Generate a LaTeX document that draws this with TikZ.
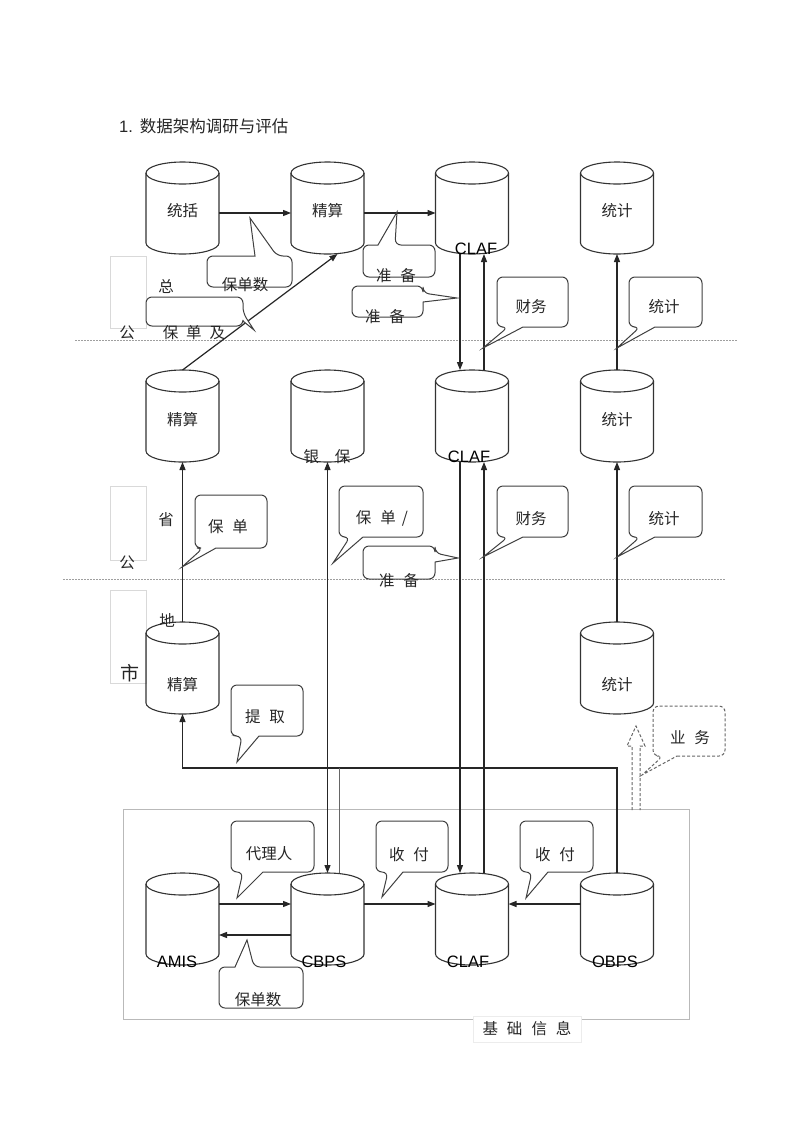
\documentclass[tikz,border=0pt]{standalone}
\usepackage{fontspec}
\setmainfont{Noto Sans CJK SC}
\newfontfamily\lat{Liberation Sans}
\usetikzlibrary{arrows.meta}
\tikzset{
 cylbox/.style={minimum width=73pt, minimum height=92pt, inner sep=0pt, outer sep=0pt},
 cylline/.style={draw=black!80, line width=1.1pt},
 arr/.style={draw=black!85, line width=1.2pt, -{Triangle[length=8pt,width=6pt]}},
 barr/.style={draw=black!85, line width=1.2pt, {Triangle[length=8pt,width=6pt]}-{Triangle[length=8pt,width=6pt]}},
 thinln/.style={draw=black!60, line width=0.7pt},
 co/.style={draw=black!75, line width=1pt, fill=white, rounded corners=6pt},
 cod/.style={draw=black!60, line width=1pt, fill=white, rounded corners=6pt, dash pattern=on 3pt off 2pt},
 cn/.style={font=\fontsize{15.5}{18}\selectfont, inner sep=0pt, text=black!85},
 ln/.style={font=\lat\fontsize{16.5}{18}\selectfont, inner sep=0pt},
 sepl/.style={draw=gray!75, line width=0.6pt, dash pattern=on 2pt off 1pt},
 lbox/.style={draw=gray!30, line width=0.4pt},
 basebox/.style={draw=gray!55, line width=0.7pt, minimum width=566pt, minimum height=210pt, inner sep=0pt},
}
\newcommand\gp{\hspace{9pt}}
\newcommand\cyl[3]{%
 \node[cylbox] (#1) at (#2,#3) {};
 \draw[cylline] (#2-36.5,#3-35) -- (#2-36.5,#3+35) arc[start angle=180,end angle=0,x radius=36.5,y radius=11] -- (#2+36.5,#3-35);
 \draw[cylline] (#2,#3-35) ellipse[x radius=36.5, y radius=11];
}
% bottom-edge pointer: x1 y1 x2 y2 bx1 bx2 tx ty
\newcommand\calB[9][co]{%
 \draw[#1] (#7,#5) -- (#4,#5) -- (#4,#3) -- (#2,#3) -- (#2,#5) -- (#6,#5) [sharp corners] -- (#8,#9) -- cycle;}
% top-edge pointer
\newcommand\calT[9][co]{%
 \draw[#1] (#6,#3) -- (#2,#3) -- (#2,#5) -- (#4,#5) -- (#4,#3) -- (#7,#3) [sharp corners] -- (#8,#9) -- cycle;}
% right-edge pointer: x1 y1 x2 y2 by1 by2 tx ty
\newcommand\calR[9][co]{%
 \draw[#1] (#4,#7) -- (#4,#5) -- (#2,#5) -- (#2,#3) -- (#4,#3) -- (#4,#6) [sharp corners] -- (#8,#9) -- cycle;}
\begin{document}
\begin{tikzpicture}[x=1pt,y=-1pt]
\fill[white] (0,0) rectangle (800,1133);
\useasboundingbox (0,0) rectangle (800,1133);

% separators
\draw[sepl] (75,340) -- (737,340);
\draw[sepl] (63,579) -- (725,579);

% left label boxes
\draw[lbox] (110,256) rectangle (146,328);
\draw[lbox] (110,486) rectangle (146,560);
\draw[lbox] (110,590) rectangle (146,683);

% base box
\node[basebox] (base) at (406,914) {};
\node[cn, fill=white, draw=gray!15, line width=0.4pt, minimum width=108pt, minimum height=26pt] (k17) at (527,1029) {基\gp{}础\gp{}信\gp{}息};

% cylinders
\cyl{r1a}{182.5}{208}
\cyl{r1b}{327.5}{208}
\cyl{r1c}{472}{208}
\cyl{r1d}{617}{208}
\cyl{r2a}{182.5}{416}
\cyl{r2b}{327.5}{416}
\cyl{r2c}{472}{416}
\cyl{r2d}{617}{416}
\cyl{r3a}{182.5}{668}
\cyl{r3d}{617}{668}
\cyl{r4a}{182.5}{919}
\cyl{r4b}{327.5}{919}
\cyl{r4c}{472}{919}
\cyl{r4d}{617}{919}

% junction coordinates
\coordinate (jR) at (617,768);
\coordinate (jL) at (182.5,768);
\coordinate (jC) at (339.5,768);

% connectors
\draw[arr] ([yshift=-5pt]r1a.east) -- ([yshift=-5pt]r1b.west);
\draw[arr] ([yshift=-5pt]r1b.east) -- ([yshift=-5pt]r1c.west);
\draw[arr] ([xshift=-12pt]r1c.south) -- ([xshift=-12pt]r2c.north);
\draw[arr] ([xshift=12pt]r2c.north) -- ([xshift=12pt]r1c.south);
\draw[arr] ([xshift=-12pt]r2c.south) -- ([xshift=-12pt]r4c.north);
\draw[arr] ([xshift=12pt]r4c.north) -- ([xshift=12pt]r2c.south);
\draw[arr] (r2d.north) -- (r1d.south);
\draw[arr] (r3d.north) -- (r2d.south);
\draw[arr] (r2a.north) -- ([xshift=10pt]r1b.south);
\draw[arr] (r3a.north) -- (r2a.south);
\draw[barr] (r2b.south) -- (r4b.north);
\draw[arr] (r4d.north) -- (jR) -- (jL) -- (r3a.south);
\draw[thinln] ([xshift=12pt]r4b.north) -- (jC);
\draw[arr] ([yshift=15pt]r4a.east) -- ([yshift=15pt]r4b.west);
\draw[arr] ([yshift=-16pt]r4b.west) -- ([yshift=-16pt]r4a.east);
\draw[arr] ([yshift=15pt]r4b.east) -- ([yshift=15pt]r4c.west);
\draw[arr] ([yshift=15pt]r4d.west) -- ([yshift=15pt]r4c.east);

% dashed hollow arrow
\draw[draw=black!60, line width=1pt, dash pattern=on 3pt off 2pt, line join=miter]
 (632,810) -- (632,746) -- (627,746) -- (636,726) -- (645,746) -- (640,746) -- (640,810);

% callouts
\calT{207}{256}{292}{287}{255}{277}{250}{218}
\calT{363}{245}{435}{277}{378}{395}{397}{212}
\calR{352}{286}{423}{317}{293}{302}{457}{298}
\calR{146}{297}{243}{326}{313}{321}{254}{330}
\calB{497}{277}{568}{327}{508}{523}{483}{348}
\calB{629}{277}{702}{327}{640}{655}{617}{348}
\calB{195}{495}{267}{548}{203}{216}{182}{567}
\calB{339}{486}{423}{537}{350}{363}{333}{563}
\calR{363}{546}{435}{579}{553}{562}{458}{558}
\calB{497}{486}{568}{537}{508}{523}{483}{557}
\calB{629}{486}{702}{537}{640}{655}{617}{557}
\calB{231}{685}{303}{736}{242}{259}{237}{762}
\calB[cod]{653}{706}{725}{756}{663}{677}{642}{775}
\calB{231}{821}{314}{872}{243}{263}{237}{898}
\calB{376}{821}{448}{872}{388}{403}{382}{897}
\calB{520}{821}{593}{872}{532}{548}{526}{898}
\calT{219}{967}{303}{1008}{235}{254}{247}{940}

% title
\node[cn, anchor=west, font=\fontsize{16.5}{18}\selectfont] (title) at (119,126) {{\lat 1.}\hspace{7pt}数据架构调研与评估};

% cylinder texts
\node[cn] (c1) at (182.5,211) {统括};
\node[cn] (c2) at (327.5,211) {精算};
\node[ln] (c3) at (476,249) {CLAF};
\node[cn] (c4) at (617,211) {统计};
\node[cn] (c5) at (182.5,420) {精算};
\node[cn] (c6) at (327,457) {银\hspace{16pt}保};
\node[ln] (c7) at (469,457) {CLAF};
\node[cn] (c8) at (617,420) {统计};
\node[cn] (c9) at (182.5,685) {精算};
\node[cn] (c10) at (617,685) {统计};
\node[ln] (c11) at (177,962) {AMIS};
\node[ln] (c12) at (324,962) {CBPS};
\node[ln] (c13) at (468,962) {CLAF};
\node[ln] (c14) at (615,962) {OBPS};

% left labels
\node[cn] (l1) at (166,287) {总};
\node[cn] (l2) at (127,333) {公};
\node[cn] (l3) at (194,333) {保\hspace{8pt}单\hspace{8pt}及};
\node[cn] (l4) at (166,520) {省};
\node[cn] (l5) at (127,563) {公};
\node[cn] (l6) at (167,620) {地};
\node[cn, font=\fontsize{19}{21}\selectfont] (l7) at (130,673) {市};

% callout texts
\node[cn] (k1) at (245,285) {保单数};
\node[cn] (k2) at (396,276) {准\gp{}备};
\node[cn] (k3) at (385,317) {准\gp{}备};
\node[cn] (k4) at (531,307) {财务};
\node[cn] (k5) at (664,307) {统计};
\node[cn] (k6) at (228,527) {保\gp{}单};
\node[cn] (k7) at (382,518) {保\gp{}单\hspace{6pt}/};
\node[cn] (k8) at (399,581) {准\gp{}备};
\node[cn] (k9) at (531,519) {财务};
\node[cn] (k10) at (664,519) {统计};
\node[cn] (k11) at (265,717) {提\gp{}取};
\node[cn] (k12) at (690,738) {业\gp{}务};
\node[cn] (k13) at (269,854) {代理人};
\node[cn] (k14) at (409,855) {收\gp{}付};
\node[cn] (k15) at (555,855) {收\gp{}付};
\node[cn] (k16) at (258,1000) {保单数};
\end{tikzpicture}
\end{document}
